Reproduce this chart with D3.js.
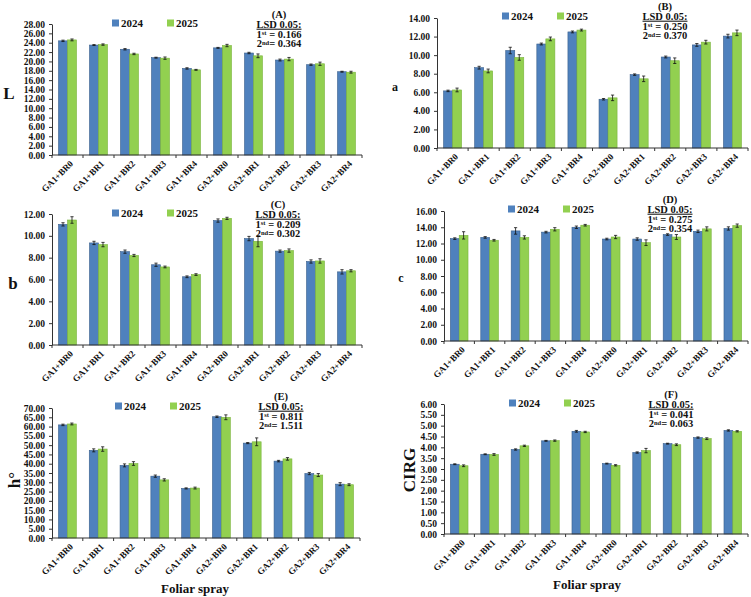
<!DOCTYPE html>
<html>
<head>
<meta charset="utf-8">
<script src="https://cdn.jsdelivr.net/npm/d3@7"></script>
<style>
  body { margin: 0; background: #fff; }
  svg { display: block; font-family: "Liberation Serif", "Times New Roman", serif; font-weight: bold; }
</style>
</head>
<body>
<svg id="chart" width="751" height="597"></svg>
<script>
const categories = ["GA1+BR0", "GA1+BR1", "GA1+BR2", "GA1+BR3", "GA1+BR4",
  "GA2+BR0", "GA2+BR1", "GA2+BR2", "GA2+BR3", "GA2+BR4"];
const years = ["2024", "2025"];

// L
const L2024 = [24.4, 23.5, 22.6, 20.8, 18.5, 22.9, 21.8, 20.3, 19.3, 17.8];
const L2025 = [24.6, 23.6, 21.6, 20.7, 18.2, 23.4, 21.2, 20.5, 19.5, 17.7];
const Lerr2024 = [0.15, 0.1, 0.15, 0.1, 0.15, 0.1, 0.15, 0.2, 0.15, 0.1];
const Lerr2025 = [0.2, 0.15, 0.15, 0.25, 0.1, 0.25, 0.4, 0.35, 0.35, 0.2];
// a
const a2024 = [6.15, 8.65, 10.5, 11.2, 12.5, 5.25, 7.9, 9.8, 11.1, 12.05];
const a2025 = [6.25, 8.3, 9.75, 11.75, 12.7, 5.4, 7.45, 9.4, 11.4, 12.4];
const aerr2024 = [0.08, 0.15, 0.35, 0.1, 0.1, 0.08, 0.08, 0.1, 0.15, 0.2];
const aerr2025 = [0.2, 0.2, 0.3, 0.2, 0.1, 0.3, 0.3, 0.3, 0.2, 0.3];
// b
const b2024 = [11.05, 9.35, 8.55, 7.35, 6.25, 11.4, 9.75, 8.6, 7.65, 6.7];
const b2025 = [11.45, 9.2, 8.2, 7.15, 6.45, 11.6, 9.5, 8.65, 7.7, 6.8];
const berr2024 = [0.15, 0.15, 0.15, 0.15, 0.08, 0.15, 0.2, 0.1, 0.15, 0.2];
const berr2025 = [0.3, 0.2, 0.1, 0.08, 0.08, 0.1, 0.5, 0.15, 0.2, 0.1];
// c
const c2024 = [12.6, 12.75, 13.55, 13.4, 14.0, 12.55, 12.55, 13.1, 13.5, 13.85];
const c2025 = [13.0, 12.4, 12.75, 13.75, 14.25, 12.8, 12.1, 12.8, 13.8, 14.2];
const cerr2024 = [0.1, 0.1, 0.4, 0.1, 0.15, 0.1, 0.15, 0.1, 0.15, 0.2];
const cerr2025 = [0.45, 0.1, 0.2, 0.2, 0.1, 0.2, 0.35, 0.3, 0.25, 0.2];
// h°
const h2024 = [60.9, 47.2, 39.1, 33.3, 26.7, 65.3, 51.1, 41.4, 34.7, 29.0];
const h2025 = [61.4, 47.9, 40.1, 31.3, 26.9, 65.0, 51.8, 42.6, 33.9, 28.7];
const herr2024 = [0.4, 0.8, 0.8, 0.6, 0.3, 0.4, 0.3, 0.4, 0.6, 0.8];
const herr2025 = [0.5, 1.2, 1.0, 0.6, 0.5, 1.3, 2.1, 0.7, 0.8, 0.5];
// CIRG
const cirg2024 = [3.22, 3.68, 3.90, 4.30, 4.74, 3.25, 3.76, 4.17, 4.45, 4.78];
const cirg2025 = [3.15, 3.67, 4.07, 4.31, 4.71, 3.17, 3.85, 4.12, 4.40, 4.74];
const cirgerr2024 = [0.02, 0.02, 0.03, 0.02, 0.04, 0.02, 0.03, 0.02, 0.03, 0.03];
const cirgerr2025 = [0.04, 0.04, 0.03, 0.03, 0.03, 0.03, 0.1, 0.04, 0.04, 0.03];

const panelTags = ["(A)", "(B)", "(C)", "(D)", "(E)", "(F)"];
const lsd1 = ["0.166", "0.250", "0.209", "0.275", "0.811", "0.041"];
const lsd2 = ["0.364", "0.370", "0.302", "0.354", "1.511", "0.063"];
const yTitles = ["L", "a", "b", "c", "h°", "CIRG"];
const yMax = [28, 14, 12, 16, 70, 6];
const yStep = [2, 2, 2, 2, 5, 0.5];

const colors = { "2024": "#4f81bd", "2025": "#92d050" };
const strokes = { "2024": "#3a5f8c", "2025": "#7ab33c" };

// rot: whether the axis title is turned vertical
const layout = [
  { l: 52, t: 24, b: 155, r: 362, tx: 9, ty: 93, ts: 17, rot: false, ax: 279, ay: 14, lx: 112, ly: 23 },
  { l: 437, t: 18, b: 148, r: 748, tx: 395, ty: 87, ts: 12, rot: false, ax: 665, ay: 6, lx: 502, ly: 16 },
  { l: 52, t: 214, b: 345, r: 362, tx: 13, ty: 283, ts: 17, rot: false, ax: 278, ay: 204, lx: 112, ly: 213 },
  { l: 444, t: 211, b: 341, r: 748, tx: 401, ty: 278, ts: 12, rot: false, ax: 670, ay: 199, lx: 508, ly: 209 },
  { l: 52, t: 408, b: 538, r: 360, tx: 14, ty: 480, ts: 17, rot: true, ax: 281, ay: 396, lx: 115, ly: 406, xt: [195, 593] },
  { l: 444, t: 404, b: 534, r: 748, tx: 409, ty: 470, ts: 17, rot: true, ax: 671, ay: 394, lx: 509, ly: 403, xt: [587, 589] }
];

const series = [
  [L2024, L2025, Lerr2024, Lerr2025],
  [a2024, a2025, aerr2024, aerr2025],
  [b2024, b2025, berr2024, berr2025],
  [c2024, c2025, cerr2024, cerr2025],
  [h2024, h2025, herr2024, herr2025],
  [cirg2024, cirg2025, cirgerr2024, cirgerr2025]
];

const svg = d3.select("#chart");

series.forEach((s, i) => {
  const p = layout[i];
  const g = svg.append("g");

  const x = d3.scaleBand().domain(categories).range([p.l, p.r]).paddingInner(0.42).paddingOuter(0.21);
  const x1 = d3.scaleBand().domain(years).range([0, x.bandwidth()]);
  const y = d3.scaleLinear().domain([0, yMax[i]]).range([p.b, p.t]);
  const ticks = d3.range(0, yMax[i] + yStep[i] / 2, yStep[i]);

  const rows = categories.map((c, k) => ({
    cat: c,
    vals: years.map((yr, j) => ({ yr, v: s[j][k], e: s[j + 2][k] }))
  }));

  const grp = g.selectAll("g.cat").data(rows).join("g")
    .attr("transform", d => `translate(${x(d.cat)},0)`);

  grp.selectAll("rect").data(d => d.vals).join("rect")
    .attr("x", d => x1(d.yr))
    .attr("y", d => y(d.v))
    .attr("width", x1.bandwidth())
    .attr("height", d => y(0) - y(d.v))
    .attr("fill", d => colors[d.yr])
    .attr("stroke", d => strokes[d.yr])
    .attr("stroke-width", 0.6);

  // error bars
  const eb = grp.selectAll("g.err").data(d => d.vals).join("g")
    .attr("stroke", "#111").attr("stroke-width", 0.8);
  eb.append("line")
    .attr("x1", d => x1(d.yr) + x1.bandwidth() / 2).attr("x2", d => x1(d.yr) + x1.bandwidth() / 2)
    .attr("y1", d => y(d.v - d.e)).attr("y2", d => y(d.v + d.e));
  eb.append("line")
    .attr("x1", d => x1(d.yr) + x1.bandwidth() / 2 - 1.6).attr("x2", d => x1(d.yr) + x1.bandwidth() / 2 + 1.6)
    .attr("y1", d => y(d.v + d.e)).attr("y2", d => y(d.v + d.e));
  eb.append("line")
    .attr("x1", d => x1(d.yr) + x1.bandwidth() / 2 - 1.6).attr("x2", d => x1(d.yr) + x1.bandwidth() / 2 + 1.6)
    .attr("y1", d => y(d.v - d.e)).attr("y2", d => y(d.v - d.e));

  // y axis
  const yAxis = g.append("g")
    .attr("transform", `translate(${p.l},0)`)
    .call(d3.axisLeft(y).tickValues(ticks).tickFormat(d3.format(".2f")).tickSize(3).tickSizeOuter(0));
  yAxis.select(".domain").attr("stroke", "#333");
  yAxis.selectAll("line").attr("stroke", "#333");
  yAxis.selectAll("text").attr("font-size", 9.5).attr("font-family", "Liberation Serif").attr("font-weight", "bold").attr("fill", "#111").attr("dx", "-1");

  // x axis: ticks at category boundaries
  const xAxis = g.append("g").attr("transform", `translate(0,${p.b})`);
  xAxis.append("line").attr("x1", p.l).attr("x2", p.r).attr("stroke", "#333");
  xAxis.selectAll("line.tk").data(d3.range(categories.length + 1)).join("line")
    .attr("class", "tk")
    .attr("x1", k => p.l + k * (p.r - p.l) / categories.length)
    .attr("x2", k => p.l + k * (p.r - p.l) / categories.length)
    .attr("y1", 0).attr("y2", 3).attr("stroke", "#333");
  xAxis.selectAll("text").data(categories).join("text")
    .attr("transform", d => `translate(${x(d) + x.bandwidth() / 2 + 4},7) rotate(-45)`)
    .attr("text-anchor", "end")
    .attr("dy", "0.35em")
    .attr("font-size", 9)
    .attr("fill", "#111")
    .text(d => d);

  // y title
  g.append("text")
    .attr("transform", `translate(${p.tx},${p.ty})` + (p.rot ? " rotate(-90)" : ""))
    .attr("text-anchor", "middle")
    .attr("dy", "0.35em")
    .attr("font-size", p.ts)
    .attr("fill", "#111")
    .text(yTitles[i]);

  if (p.xt) {
    g.append("text")
      .attr("x", p.xt[0]).attr("y", p.xt[1])
      .attr("text-anchor", "middle")
      .attr("font-size", 13)
      .attr("fill", "#111")
      .text("Foliar spray");
  }

  // legend
  years.forEach((yr, j) => {
    const lx = p.lx + j * 55;
    g.append("rect").attr("x", lx).attr("y", p.ly - 3.5).attr("width", 7).attr("height", 7)
      .attr("fill", colors[yr]);
    g.append("text").attr("x", lx + 9).attr("y", p.ly).attr("dy", "0.35em")
      .attr("font-size", 11).attr("fill", "#111").text(yr);
  });

  // LSD annotation
  const ann = g.append("g").attr("font-size", 10.5).attr("fill", "#111").attr("text-anchor", "middle");
  ann.append("text").attr("x", p.ax).attr("y", p.ay).attr("dy", "0.35em").text(panelTags[i]);
  ann.append("text").attr("x", p.ax).attr("y", p.ay + 10).attr("dy", "0.35em")
    .attr("text-decoration", "underline").text("LSD 0.05:");
  const t1 = ann.append("text").attr("x", p.ax).attr("y", p.ay + 20).attr("dy", "0.35em");
  t1.append("tspan").text("1");
  t1.append("tspan").attr("font-size", 6.5).attr("dy", "-0.4em").text("st");
  t1.append("tspan").attr("dy", "0.24em").text(" = " + lsd1[i]);
  const t2 = ann.append("text").attr("x", p.ax).attr("y", p.ay + 29.5).attr("dy", "0.35em");
  t2.append("tspan").text("2");
  t2.append("tspan").attr("font-size", 6.5).attr("dy", "-0.4em").text("nd");
  t2.append("tspan").attr("dy", "0.24em").text("= " + lsd2[i]);
});
</script>
</body>
</html>
